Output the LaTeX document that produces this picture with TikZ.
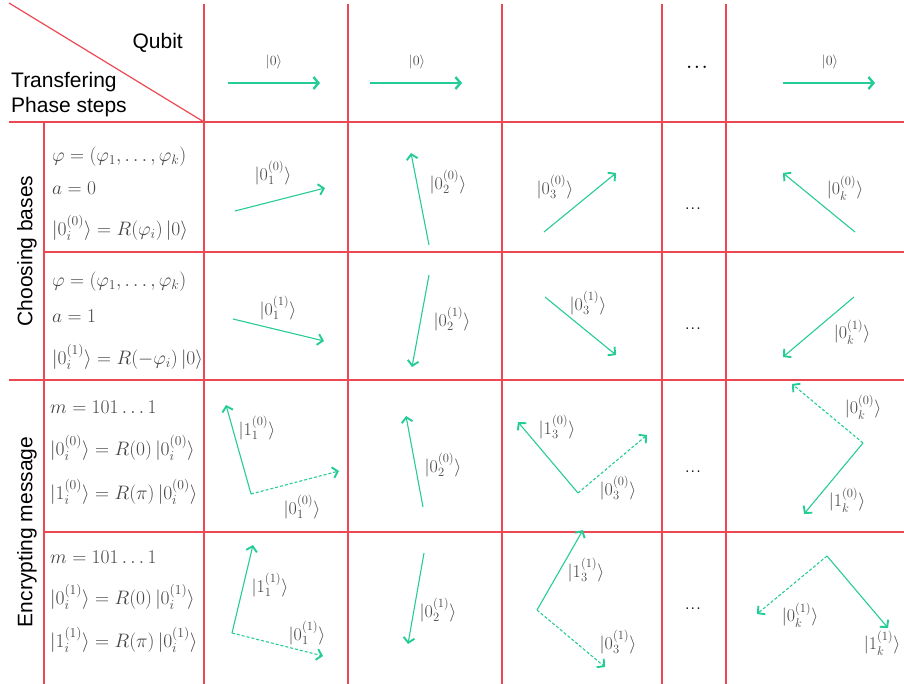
\RequirePackage{fix-cm}
\documentclass[tikz,border=0pt]{standalone}
\usepackage{fontspec}
\usepackage{amsmath}
\usetikzlibrary{arrows.meta}
\newfontfamily\headfont{Liberation Sans}
\definecolor{gridred}{RGB}{236,72,84}
\definecolor{vecgreen}{RGB}{38,204,152}
\definecolor{mathgray}{RGB}{70,70,70}

\begin{document}
\begin{tikzpicture}[
    x=1pt, y=-1pt,
    grid/.style={draw=gridred, line width=1.2pt},
    head/.style={font=\headfont\fontsize{21}{25}\selectfont, text=black, inner sep=0pt},
    side/.style={head, rotate=90},
    eq/.style={anchor=west, inner sep=0pt, text=mathgray, font=\fontsize{19.5}{23}\selectfont},
    ket/.style={inner sep=0pt, text=mathgray, font=\fontsize{18}{21}\selectfont},
    zero/.style={inner sep=0pt, text=mathgray, font=\fontsize{14}{16}\selectfont},
    gap/.style={inner sep=0pt, text=black, font=\fontsize{11}{13}\selectfont},
    vec/.style={draw=vecgreen, line width=1.1pt,
                -{Straight Barb[length=5pt, width=11pt, line width=1.9pt]}},
    inivec/.style={vec, line width=2pt,
                -{Straight Barb[length=5pt, width=12pt, line width=2.4pt]}},
    dvec/.style={vec, dash pattern=on 3pt off 2pt}
  ]
    \useasboundingbox (0,0) rectangle (904,684);

    % Table lines
    \draw[grid] (9,3) -- (204,122);
    \foreach \x in {204,348,502,662,726}
      \draw[grid] (\x,4) -- (\x,684);
    \draw[grid] (44,122) -- (44,684);
    \foreach \y in {122,380}
      \draw[grid] (9,\y) -- (904,\y);
    \foreach \y in {252,532}
      \draw[grid] (44,\y) -- (904,\y);

    % Corner and side headings
    \node[head, anchor=east] (qubit) at (183,43) {Qubit};
    \node[head, anchor=west] (trans) at (11,82) {Transfering};
    \node[head, anchor=west] (steps) at (11,107) {Phase steps};
    \node[side] (choose)  at (27,251) {Choosing bases};
    \node[side] (encrypt) at (27,532) {Encrypting message};

    % Step descriptions
    \node[eq] (phiA) at (52,157) {$\varphi = (\varphi_1, \ldots, \varphi_k)$};
    \node[eq] (aA)   at (52,188) {$a = 0$};
    \node[eq] (rotA) at (52,228) {$|0_i^{(0)}\rangle = R(\varphi_i)\,|0\rangle$};
    \node[eq] (phiB) at (52,282) {$\varphi = (\varphi_1, \ldots, \varphi_k)$};
    \node[eq] (aB)   at (52,316) {$a = 1$};
    \node[eq] (rotB) at (52,357) {$|0_i^{(1)}\rangle = R(-\varphi_i)\,|0\rangle$};
    \node[eq] (msgC) at (50,407) {$m = 101\ldots1$};
    \node[eq] (zC)   at (50,448) {$|0_i^{(0)}\rangle = R(0)\,|0_i^{(0)}\rangle$};
    \node[eq] (oC)   at (50,492) {$|1_i^{(0)}\rangle = R(\pi)\,|0_i^{(0)}\rangle$};
    \node[eq] (msgD) at (50,557) {$m = 101\ldots1$};
    \node[eq] (zD)   at (50,597) {$|0_i^{(1)}\rangle = R(0)\,|0_i^{(1)}\rangle$};
    \node[eq] (oD)   at (50,640) {$|1_i^{(1)}\rangle = R(\pi)\,|0_i^{(1)}\rangle$};

    % Initial qubits
    \foreach \n/\ax/\ay/\bx/\by in {q1/228/83/320/83, q2/370/83/462/83, qk/783/83/875/83} {
      \coordinate (\n t) at (\ax,\ay);
      \coordinate (\n h) at (\bx,\by);
      \draw[inivec] (\n t) -- (\n h);
    }
    \node[zero] (z1) at (274,62) {$|0\rangle$};
    \node[zero] (z2) at (417,62) {$|0\rangle$};
    \node[zero] (zk) at (830,62) {$|0\rangle$};
    \node[gap, font=\fontsize{15}{18}\selectfont] (dq) at (697,67) {$\boldsymbol{\ldots}$};

    % Solid vectors
    \foreach \n/\ax/\ay/\bx/\by in {
        a1/235/211/325/188, a2/429/245/411/153, a3/544/232/616/173, ak/855/232/783/173,
        b1/233/319/324/341, b2/429/275/412/367, b3/545/297/616/355, bk/854/297/783/357,
        c1/251/494/226/405, c2/423/507/406/416, c3/578/493/518/422, ck/863/443/804/514,
        d1/232/633/253/545, d2/424/553/408/644, d3/537/610/583/530, dk/827/556/888/628} {
      \coordinate (\n t) at (\ax,\ay);
      \coordinate (\n h) at (\bx,\by);
      \draw[vec] (\n t) -- (\n h);
    }

    % Dashed vectors
    \foreach \n/\ax/\ay/\bx/\by in {
        e1/251/494/339/471, e3/578/493/647/435, ek/863/443/792/384,
        f1/232/633/323/656, f3/537/610/605/667, fk/827/556/757/614} {
      \coordinate (\n t) at (\ax,\ay);
      \coordinate (\n h) at (\bx,\by);
      \draw[dvec] (\n t) -- (\n h);
    }

    % Vector labels
    \node[ket] (la1) at (273,173) {$|0_1^{(0)}\rangle$};
    \node[ket] (la2) at (448,182) {$|0_2^{(0)}\rangle$};
    \node[ket] (la3) at (555,187) {$|0_3^{(0)}\rangle$};
    \node[ket] (lak) at (845,188) {$|0_k^{(0)}\rangle$};
    \node[ket] (lb1) at (278,308) {$|0_1^{(1)}\rangle$};
    \node[ket] (lb2) at (452,319) {$|0_2^{(1)}\rangle$};
    \node[ket] (lb3) at (588,303) {$|0_3^{(1)}\rangle$};
    \node[ket] (lbk) at (852,332) {$|0_k^{(1)}\rangle$};
    \node[ket] (lc1) at (257,428) {$|1_1^{(0)}\rangle$};
    \node[ket] (le1) at (302,507) {$|0_1^{(0)}\rangle$};
    \node[ket] (lc2) at (443,465) {$|0_2^{(0)}\rangle$};
    \node[ket] (lc3) at (557,427) {$|1_3^{(0)}\rangle$};
    \node[ket] (le3) at (618,488) {$|0_3^{(0)}\rangle$};
    \node[ket] (lek) at (863,407) {$|0_k^{(0)}\rangle$};
    \node[ket] (lck) at (847,500) {$|1_k^{(0)}\rangle$};
    \node[ket] (ld1) at (270,585) {$|1_1^{(1)}\rangle$};
    \node[ket] (lf1) at (307,633) {$|0_1^{(1)}\rangle$};
    \node[ket] (ld2) at (438,610) {$|0_2^{(1)}\rangle$};
    \node[ket] (ld3) at (586,570) {$|1_3^{(1)}\rangle$};
    \node[ket] (lf3) at (618,642) {$|0_3^{(1)}\rangle$};
    \node[ket] (lfk) at (800,615) {$|0_k^{(1)}\rangle$};
    \node[ket] (ldk) at (882,643) {$|1_k^{(1)}\rangle$};

    % Omitted qubits
    \node[gap] (da) at (693,209) {$\boldsymbol{\ldots}$};
    \node[gap] (db) at (693,329) {$\boldsymbol{\ldots}$};
    \node[gap] (dc) at (693,472) {$\boldsymbol{\ldots}$};
    \node[gap] (dd) at (693,609) {$\boldsymbol{\ldots}$};
  \end{tikzpicture}
\end{document}
